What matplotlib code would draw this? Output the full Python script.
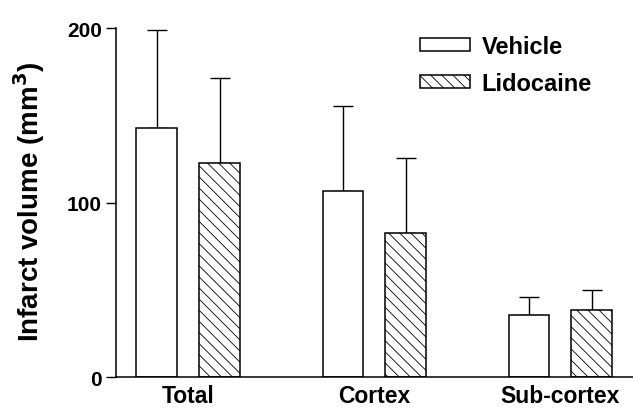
import numpy as np
import matplotlib
matplotlib.use("Agg")
import matplotlib.pyplot as plt

# values (mean, upper SD)
regions = ["Total", "Cortex", "Sub-cortex"]
vehicle = [142.5, 106.4, 35.5]
vehicle_sd = [56.5, 49.0, 10.3]
lidocaine = [122.5, 82.7, 38.6]
lidocaine_sd = [48.7, 42.8, 11.1]
yticks = [0, 100, 200]

plt.rcParams['font.family'] = ['Liberation Sans', 'DejaVu Sans']
plt.rcParams['font.weight'] = 'bold'
plt.rcParams['hatch.linewidth'] = 0.6

fig = plt.figure(figsize=(6.33, 4.10), dpi=100)
ax = fig.add_axes([0.183, 0.078, 0.817, 0.851])

x = np.arange(len(regions))
w = 0.22
off = 0.169

ax.bar(x - off, vehicle, w, color='white', edgecolor='black', linewidth=1.1,
       label='Vehicle', zorder=2)
ax.bar(x + off, lidocaine, w, color='white', edgecolor='black', linewidth=1.1,
       hatch='\\' * 3, label='Lidocaine', zorder=2)

# upper error bars only
ax.errorbar(x - off, vehicle, yerr=[np.zeros(3), vehicle_sd], fmt='none',
            ecolor='black', elinewidth=1.0, capsize=7, capthick=1.0, zorder=1)
ax.errorbar(x + off, lidocaine, yerr=[np.zeros(3), lidocaine_sd], fmt='none',
            ecolor='black', elinewidth=1.0, capsize=7, capthick=1.0, zorder=1)

ax.set_xlim(-0.39, 2.39)
ax.set_ylim(0, 200)
ax.set_yticks(yticks)
ax.set_xticks(x)
ax.set_xticklabels(regions, fontsize=16.5, fontweight='bold')
ax.tick_params(axis='x', length=0, pad=5)
ax.tick_params(axis='y', length=7, width=1.0, labelsize=15, pad=3)
for lab in ax.get_yticklabels():
    lab.set_fontweight('bold')

ax.spines['top'].set_visible(False)
ax.spines['right'].set_visible(False)
ax.spines['left'].set_linewidth(1.1)
ax.spines['bottom'].set_linewidth(1.1)

ax.set_ylabel('Infarct volume (mm$^\\mathbf{3}$)', fontsize=20, fontweight='bold')
ax.yaxis.set_label_coords(-0.133, 0.505)

ax.legend(loc='upper left', bbox_to_anchor=(0.57, 1.008), frameon=False,
          fontsize=17, handlelength=2.1, handleheight=0.5, handletextpad=0.5,
          labelspacing=0.6, borderaxespad=0)

fig.savefig('out.png', dpi=100)
